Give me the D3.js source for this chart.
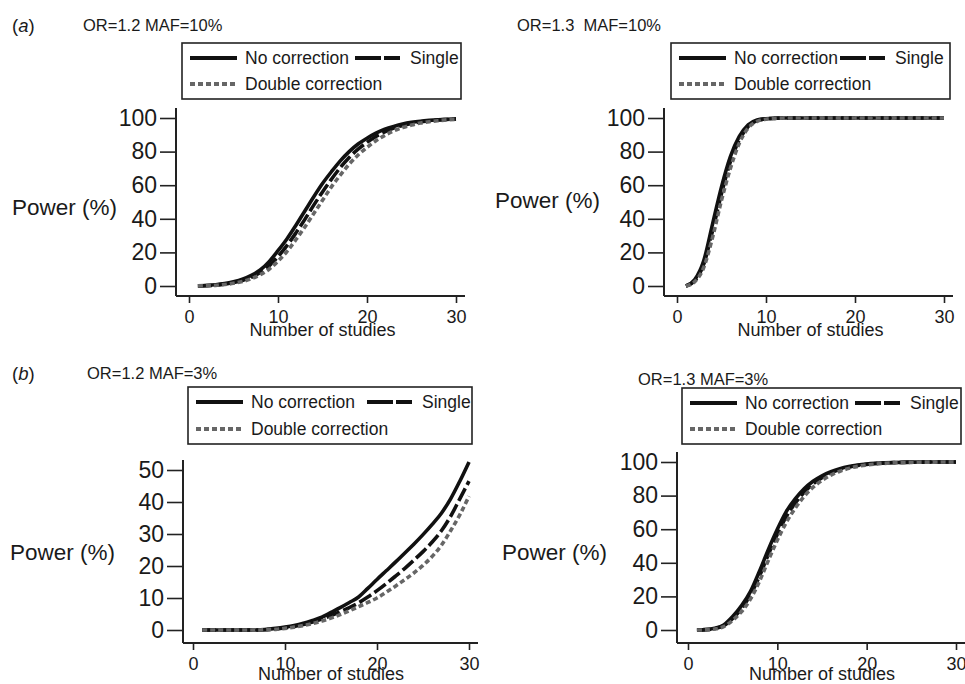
<!DOCTYPE html>
<html>
<head>
  <meta charset="utf-8">
  <title>power by number of studies</title>
  <style>
    body { margin: 0; background: #fff; }
    svg text { font-family: "Liberation Sans", Arial, sans-serif; fill: #1a1a1a; }
  </style>
</head>
<body>
<svg id="chart" width="965" height="684"></svg>
<script src="https://d3js.org/d3.v7.min.js"></script>
<script>
// number of studies (x)
var studies = d3.range(1, 31);

// (a) OR=1.2 MAF=10%
var a1NoCorr = [0.1,0.3,0.7,1.4,2.5,4,6.3,9.5,14.5,21,28,36,44.5,53,61,68,74.5,80,84.5,88,91,93.3,95,96.4,97.4,98.1,98.6,99,99.3,99.5];
var a1Single = [0.1,0.2,0.5,1.1,2,3.3,5.2,8,12,17.5,24,31.5,39.5,48,56,63.5,70.5,76.5,81.5,85.5,89,91.8,94,95.6,96.8,97.7,98.3,98.8,99.1,99.4];
var a1Double = [0.1,0.2,0.4,0.9,1.6,2.7,4.3,6.7,10,14.8,20.5,27.5,35,43,51,59,66,72.5,78,82.5,86.5,89.7,92.3,94.3,95.8,97,97.8,98.4,98.9,99.2];

// (a) OR=1.3 MAF=10%
var a2NoCorr = [0,3.8,15,37,59,77,89,96,98.8,99.6,99.9,100,100,100,100,100,100,100,100,100,100,100,100,100,100,100,100,100,100,100];
var a2Single = [0,3.2,13,33,55,74,87,95,98.4,99.5,99.8,100,100,100,100,100,100,100,100,100,100,100,100,100,100,100,100,100,100,100];
var a2Double = [0,2.6,11,29,51,70,85,94,98,99.3,99.8,100,100,100,100,100,100,100,100,100,100,100,100,100,100,100,100,100,100,100];

// (b) OR=1.2 MAF=3%
var b1NoCorr = [0,0,0,0,0,0,0,0.2,0.5,0.9,1.4,2.1,3,4,5.5,7,8.6,10.3,13,15.8,18.5,21.2,24,26.8,29.8,33,36.5,41,46.5,52.5];
var b1Single = [0,0,0,0,0,0,0,0.1,0.3,0.7,1.1,1.7,2.5,3.4,4.5,5.7,7,8.5,10.3,12.3,14.5,16.8,19.2,21.8,24.5,27.5,31,35.5,41,46.5];
var b1Double = [0,0,0,0,0,0,0,0.1,0.2,0.5,0.9,1.4,2,2.8,3.7,4.8,6,7.3,8.6,10,11.8,13.7,15.7,17.8,20.2,23,26.5,31,36,41.8];

// (b) OR=1.3 MAF=3%
var b2NoCorr = [0,0.2,1,3,8,14.5,23,35,48,60,70.5,78,84,88.5,91.8,94.2,96,97.3,98.2,98.8,99.2,99.5,99.7,99.8,99.9,100,100,100,100,100];
var b2Single = [0,0.2,0.8,2.5,6.8,12.8,21,32,45,57,67.5,75.5,82,87,90.7,93.5,95.5,96.9,97.9,98.6,99.1,99.4,99.6,99.8,99.9,99.9,100,100,100,100];
var b2Double = [0,0.1,0.6,2,5.8,11,18.5,29,41.5,53.5,64,72.5,79.5,85,89,92.2,94.5,96.2,97.4,98.2,98.8,99.2,99.5,99.7,99.8,99.9,99.9,100,100,100];

var xTicks = [0, 10, 20, 30];
var yTicks100 = [0, 20, 40, 60, 80, 100];
var yTicks50 = [0, 10, 20, 30, 40, 50];
var seriesNames = ["No correction", "Single", "Double correction"];

var styles = [
  { color: "#111", dash: null },
  { color: "#111", dash: "14,4" },
  { color: "#666", dash: "5,3" }
];

var svg = d3.select("#chart");
svg.append("rect").attr("width", 965).attr("height", 684).attr("fill", "#fff");

function panel(p) {
  var g = svg.append("g");
  var x = d3.scaleLinear().domain([0, 30]).range([p.x0, p.x30]);
  var y = d3.scaleLinear().domain([0, p.yMax]).range([p.y0, p.yTop]);

  // axes
  var yAxis = d3.axisLeft(y).tickValues(p.yTicks).tickSize(16).tickSizeOuter(0).tickPadding(3);
  var ga = g.append("g").attr("transform", "translate(" + p.ax + ",0)").call(yAxis);
  ga.select(".domain").remove();
  ga.selectAll("line").attr("stroke", "#222").attr("stroke-width", 1.6);
  ga.selectAll("text").style("font-size", "23px").attr("fill", "#1a1a1a");

  var xAxis = d3.axisBottom(x).tickValues(xTicks).tickSize(7).tickSizeOuter(0).tickPadding(7);
  var gx = g.append("g").attr("transform", "translate(0," + p.ay + ")").call(xAxis);
  gx.select(".domain").remove();
  gx.selectAll("line").attr("stroke", "#222").attr("stroke-width", 1.6);
  gx.selectAll("text").style("font-size", "18px").attr("fill", "#1a1a1a");

  g.append("line").attr("x1", p.ax).attr("x2", p.ax)
    .attr("y1", y(p.yMax) - 10).attr("y2", p.ay)
    .attr("stroke", "#222").attr("stroke-width", 2);
  g.append("line").attr("x1", p.ax).attr("x2", x(30) + 9)
    .attr("y1", p.ay).attr("y2", p.ay)
    .attr("stroke", "#222").attr("stroke-width", 2);

  // axis titles
  g.append("text").attr("x", (p.x0 + p.x30) / 2).attr("y", p.ay + p.xlabDy)
    .attr("text-anchor", "middle").style("font-size", "18px").text("Number of studies");
  g.append("text").attr("x", p.ylabX).attr("y", p.ylabY + 8)
    .style("font-size", "22.5px").text("Power (%)");

  // titles
  if (p.tag) {
    var t = g.append("text").attr("x", p.tagX).attr("y", p.titleY + 7).style("font-size", "18.5px");
    t.append("tspan").text("(");
    t.append("tspan").style("font-style", "italic").text(p.tag);
    t.append("tspan").text(")");
  }
  g.append("text").attr("x", p.titleX).attr("y", p.titleY + 6)
    .style("font-size", "16.5px").style("white-space", "pre").text(p.title);

  // lines
  var line = d3.line().x(function(d) { return x(d[0]); }).y(function(d) { return y(d[1]); })
    .curve(d3.curveMonotoneX);
  p.series.forEach(function(vals, i) {
    g.append("path")
      .datum(studies.map(function(s, k) { return [s, vals[k]]; }))
      .attr("fill", "none")
      .attr("stroke", styles[i].color)
      .attr("stroke-width", 3.6)
      .attr("stroke-dasharray", styles[i].dash)
      .attr("d", line);
  });

  // legend
  var lg = g.append("g").attr("transform", "translate(" + p.lx + "," + p.ly + ")");
  lg.append("rect").attr("width", p.lw).attr("height", p.lh)
    .attr("fill", "#fff").attr("stroke", "#222").attr("stroke-width", 1.6);
  var items = [
    { i: 0, sx: 8, ty: 15 },
    { i: 1, sx: p.singleX, ty: 15 },
    { i: 2, sx: 8, ty: p.lh - 15 }
  ];
  items.forEach(function(it) {
    lg.append("line").attr("x1", it.sx).attr("x2", it.sx + 47)
      .attr("y1", it.ty).attr("y2", it.ty)
      .attr("stroke", styles[it.i].color).attr("stroke-width", 4)
      .attr("stroke-dasharray", it.i === 1 ? "26,3,16" : styles[it.i].dash);
    lg.append("text").attr("x", it.sx + 55).attr("y", it.ty + 6)
      .style("font-size", "17.5px").text(seriesNames[it.i]);
  });
}

panel({ x0: 189, x30: 456, y0: 286, yTop: 118, yMax: 100, yTicks: yTicks100, ax: 176, ay: 296, xlabDy: 40,
  ylabX: 12, ylabY: 207, tag: "a", tagX: 12, titleX: 83, titleY: 25, title: "OR=1.2 MAF=10%",
  lx: 182, ly: 43, lw: 279, lh: 56, singleX: 173, series: [a1NoCorr, a1Single, a1Double] });

panel({ x0: 677, x30: 944, y0: 286, yTop: 118, yMax: 100, yTicks: yTicks100, ax: 664, ay: 296, xlabDy: 40,
  ylabX: 495, ylabY: 200, tag: null, titleX: 517, titleY: 25, title: "OR=1.3  MAF=10%",
  lx: 671, ly: 43, lw: 279, lh: 56, singleX: 169, series: [a2NoCorr, a2Single, a2Double] });

panel({ x0: 193, x30: 469, y0: 630, yTop: 470, yMax: 50, yTicks: yTicks50, ax: 183, ay: 643, xlabDy: 37,
  ylabX: 10, ylabY: 552, tag: "b", tagX: 12, titleX: 87, titleY: 373, title: "OR=1.2 MAF=3%",
  lx: 188, ly: 387, lw: 284, lh: 57, singleX: 179, series: [b1NoCorr, b1Single, b1Double] });

panel({ x0: 688, x30: 956, y0: 630, yTop: 462, yMax: 100, yTicks: yTicks100, ax: 677, ay: 643, xlabDy: 37,
  ylabX: 502, ylabY: 552, tag: null, titleX: 638, titleY: 379, title: "OR=1.3 MAF=3%",
  lx: 682, ly: 388, lw: 279, lh: 56, singleX: 173, series: [b2NoCorr, b2Single, b2Double] });
</script>
</body>
</html>
